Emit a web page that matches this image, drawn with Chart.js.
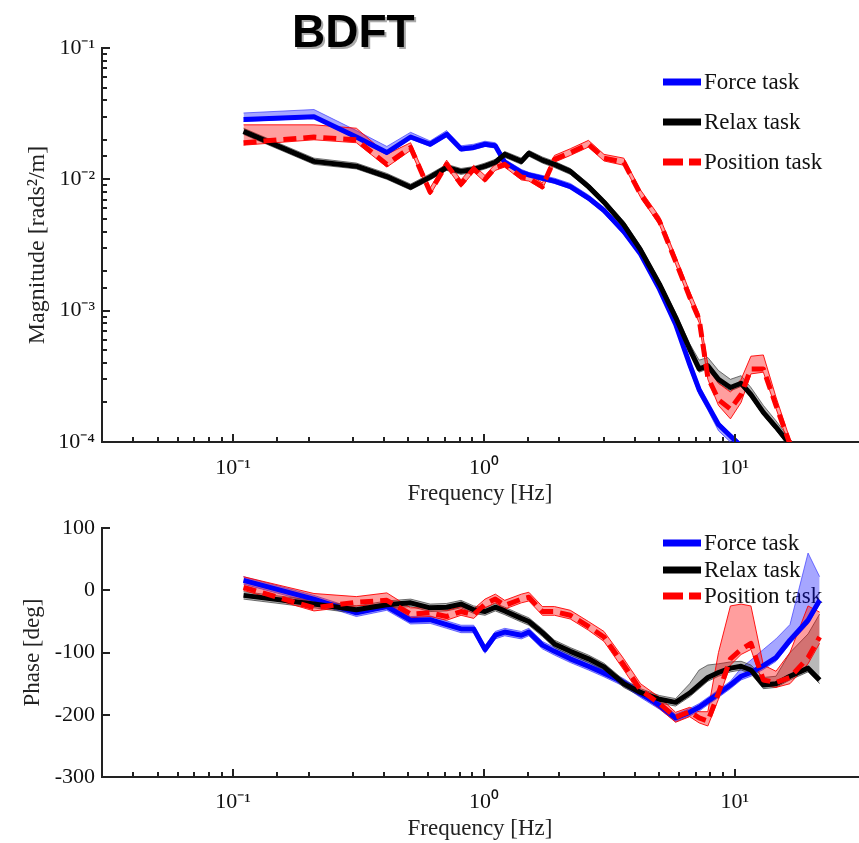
<!DOCTYPE html>
<html>
<head>
<meta charset="utf-8">
<title>BDFT</title>
<script src="https://cdn.jsdelivr.net/npm/chart.js@4.4.1/dist/chart.umd.min.js"></script>
<style>
  html, body { margin: 0; padding: 0; background: #fff; }
  #wrap { position: relative; width: 859px; height: 843px; overflow: hidden; }
  #title { position: absolute; left: 292px; top: 8px; font: bold 46px 'Liberation Sans', Arial, sans-serif; line-height: 46px; color: #000; text-shadow: 2px 2px 0 #aaa; }
  canvas { position: absolute; left: 0; }
  #mag { top: 0; }
  #phase { top: 508px; }
</style>
</head>
<body>
<div id="wrap">
  <canvas id="mag" width="859" height="510"></canvas>
  <canvas id="phase" width="859" height="335"></canvas>
  <div id="title">BDFT</div>
</div>
<script>
// frequencies (Hz) shared by all curves
const freqHz = [0.11, 0.21, 0.31, 0.41, 0.51, 0.61, 0.71, 0.81, 0.91, 1.01, 1.11, 1.21, 1.41, 1.51, 1.71, 1.91, 2.21, 2.61, 3.01, 3.61, 4.21, 5.01, 5.81, 6.61, 7.21, 7.81, 8.61, 9.61, 10.6, 11.6, 13.0, 14.6, 16.6, 19.6, 21.8];

const seriesNames = ['Force task', 'Relax task', 'Position task'];

// magnitude [rads^2/m]
const magForce = [0.0286, 0.030, 0.021, 0.016, 0.021, 0.0185, 0.022, 0.017, 0.0175, 0.0185, 0.018, 0.0135, 0.0113, 0.0108, 0.0102, 0.0097, 0.0088, 0.0072, 0.0058, 0.0040, 0.0027, 0.00146, 0.00079, 0.00039, 0.00025, 0.00019, 0.000136, 0.000111, 0.000093, 0.00007, 0.00005, 0.00004, 0.00003, 0.000025, 0.00002];
const magForceHi = [0.032, 0.034, 0.0235, 0.0178, 0.0228, 0.0196, 0.0235, 0.018, 0.0185, 0.0195, 0.019, 0.0142, 0.0119, 0.0113, 0.0107, 0.0102, 0.0093, 0.0076, 0.0061, 0.0042, 0.0028, 0.00152, 0.00083, 0.00042, 0.00027, 0.0002, 0.000143, 0.000116, 0.000098, 0.000074, 0.000053, 0.000042, 0.000032, 0.000027, 0.000022];
const magForceLo = [0.0276, 0.0292, 0.0203, 0.0154, 0.0203, 0.0178, 0.0212, 0.0164, 0.0168, 0.0178, 0.0173, 0.013, 0.0109, 0.0104, 0.0098, 0.0093, 0.0085, 0.0069, 0.0055, 0.0038, 0.0026, 0.0014, 0.00075, 0.00036, 0.00023, 0.000175, 0.000122, 0.0001, 0.000085, 0.000064, 0.000046, 0.000037, 0.000028, 0.000023, 0.000018];

const magRelax = [0.0232, 0.0137, 0.0126, 0.0105, 0.0087, 0.0104, 0.0123, 0.0115, 0.0119, 0.0126, 0.0135, 0.0155, 0.0137, 0.0158, 0.014, 0.013, 0.0115, 0.0088, 0.0067, 0.0045, 0.0029, 0.00159, 0.00089, 0.00051, 0.00036, 0.00038, 0.0003, 0.00026, 0.00028, 0.00023, 0.000168, 0.00013, 0.000096, 0.00007, 0.000057];
const magRelaxHi = [0.0245, 0.0145, 0.0133, 0.0111, 0.0092, 0.011, 0.013, 0.0121, 0.0125, 0.0133, 0.0142, 0.0163, 0.0145, 0.0166, 0.0148, 0.0137, 0.0121, 0.0093, 0.0071, 0.0048, 0.0031, 0.0017, 0.00096, 0.00056, 0.00042, 0.00044, 0.00035, 0.0003, 0.00032, 0.00026, 0.00019, 0.000145, 0.000105, 0.000077, 0.000062];
const magRelaxLo = [0.022, 0.013, 0.012, 0.01, 0.0083, 0.0099, 0.0117, 0.0109, 0.0113, 0.012, 0.0128, 0.0147, 0.013, 0.015, 0.0133, 0.0123, 0.0109, 0.0084, 0.0064, 0.0043, 0.0028, 0.0015, 0.00085, 0.00048, 0.00034, 0.00036, 0.00028, 0.000245, 0.000265, 0.000218, 0.00016, 0.000123, 0.00009, 0.000066, 0.000054];

const magPosition = [0.019, 0.021, 0.020, 0.013, 0.0175, 0.008, 0.013, 0.0092, 0.012, 0.010, 0.0123, 0.013, 0.0104, 0.0102, 0.0088, 0.0142, 0.016, 0.0185, 0.0145, 0.0135, 0.0077, 0.0048, 0.00238, 0.00127, 0.00086, 0.00031, 0.00021, 0.000178, 0.00023, 0.00036, 0.00036, 0.00019, 0.0000964, 0.00005, 0.000037];
const magPositionHi = [0.026, 0.026, 0.0245, 0.0155, 0.019, 0.0086, 0.014, 0.0099, 0.0128, 0.0107, 0.0131, 0.0139, 0.0111, 0.0109, 0.0094, 0.0152, 0.0171, 0.0198, 0.0155, 0.0145, 0.0083, 0.0052, 0.0026, 0.0014, 0.00095, 0.00039, 0.00028, 0.00024, 0.0003, 0.00045, 0.00046, 0.00022, 0.000105, 0.000055, 0.00004];
const magPositionLo = [0.0182, 0.02, 0.019, 0.0124, 0.0166, 0.0076, 0.0124, 0.0087, 0.0114, 0.0095, 0.0117, 0.0124, 0.0099, 0.0097, 0.0084, 0.0135, 0.0152, 0.0176, 0.0138, 0.0128, 0.0073, 0.0045, 0.00226, 0.0012, 0.00081, 0.0003, 0.00019, 0.00015, 0.0002, 0.00033, 0.00034, 0.00018, 0.00009, 0.000047, 0.000035];

// phase [deg]
const phaseForce = [16, -14, -36, -26, -48, -47, -55, -62, -62, -95, -72, -67, -72, -67, -88, -98, -110, -122, -133, -148, -166, -185, -205, -196, -188, -178, -166, -152, -138, -132, -121, -108, -80, -48, -16];
const phaseForceHi = [22, -8, -30, -20, -42, -41, -49, -56, -56, -89, -66, -61, -66, -61, -82, -92, -104, -116, -127, -142, -160, -179, -199, -190, -182, -172, -160, -146, -125, -112, -95, -78, -55, 60, 22];
const phaseForceLo = [10, -20, -42, -32, -54, -53, -61, -68, -68, -101, -78, -73, -78, -73, -94, -104, -116, -128, -139, -154, -172, -191, -211, -202, -194, -184, -172, -158, -144, -138, -127, -114, -86, -54, -22];

const phaseRelax = [-8, -22, -31, -23, -20, -28, -27, -22, -31, -34, -27, -33, -45, -50, -68, -86, -98, -110, -123, -150, -164, -175, -180, -165, -152, -140, -132, -125, -122, -128, -152, -150, -138, -125, -144];
const phaseRelaxHi = [-2, -16, -25, -17, -14, -22, -21, -16, -25, -28, -21, -27, -39, -44, -62, -80, -92, -104, -117, -144, -158, -169, -174, -150, -128, -120, -118, -115, -114, -120, -140, -138, -100, -70, -38];
const phaseRelaxLo = [-14, -28, -37, -29, -26, -34, -33, -28, -37, -40, -33, -39, -51, -56, -74, -92, -104, -116, -129, -156, -170, -181, -186, -171, -158, -146, -138, -131, -128, -134, -158, -156, -144, -131, -150];

const phasePosition = [5, -28, -19, -16, -38, -36, -42, -34, -39, -22, -14, -24, -14, -11, -34, -34, -40, -58, -75, -120, -160, -182, -204, -195, -205, -210, -165, -110, -95, -85, -144, -148, -140, -108, -75];
const phasePositionHi = [22, -5, -10, -4, -28, -28, -32, -26, -30, -14, -6, -16, -6, -3, -26, -26, -32, -50, -66, -110, -150, -172, -196, -188, -195, -195, -100, -25, -22, -25, -120, -130, -100, -25, -35];
const phasePositionLo = [0, -33, -25, -22, -44, -42, -48, -40, -45, -28, -20, -30, -20, -17, -40, -40, -46, -64, -82, -128, -168, -190, -212, -203, -213, -218, -175, -120, -103, -95, -152, -156, -150, -118, -85];

// tick labels
const freqDecades = [0.1, 1, 10];
const freqDecadeLabels = ['10\u207B\u00B9', '10\u2070', '10\u00B9'];
const magDecades = [1e-4, 1e-3, 1e-2, 1e-1];
const magDecadeLabels = ['10\u207B\u2074', '10\u207B\u00B3', '10\u207B\u00B2', '10\u207B\u00B9'];

const SERIF = "'Liberation Serif', 'Times New Roman', serif";
Chart.defaults.font.family = SERIF;
Chart.defaults.font.size = 22;
Chart.defaults.color = '#111';

function pts(values) {
    return freqHz.map((f, i) => ({ x: f, y: values[i] }));
}

function decadeLabel(v, decades, labels) {
    const i = decades.findIndex(d => Math.abs(v / d - 1) < 1e-6);
    return i >= 0 ? labels[i] : '';
}

function isDecade(v) {
    const e = Math.log10(v);
    return Math.abs(e - Math.round(e)) < 1e-6;
}

// inward tick marks like the matlab axes
const inwardTicks = {
    id: 'inwardTicks',
    afterDraw(chart) {
        const { ctx, chartArea, scales } = chart;
        ctx.save();
        ctx.strokeStyle = '#222';
        ctx.lineWidth = 2;
        scales.x.ticks.forEach(t => {
            if (t.value < 0.035 || t.value > 10.5) return;
            const px = Math.round(scales.x.getPixelForValue(t.value));
            const len = isDecade(t.value) ? 8 : 5;
            ctx.beginPath();
            ctx.moveTo(px, chartArea.bottom);
            ctx.lineTo(px, chartArea.bottom - len);
            ctx.stroke();
        });
        const logY = scales.y.type === 'logarithmic';
        scales.y.ticks.forEach(t => {
            const py = Math.round(scales.y.getPixelForValue(t.value));
            const len = !logY || isDecade(t.value) ? 8 : 5;
            ctx.beginPath();
            ctx.moveTo(chartArea.left, py);
            ctx.lineTo(chartArea.left + len, py);
            ctx.stroke();
        });
        ctx.restore();
    }
};

function legendPlugin(rowsY) {
    const colors = ['#0000ff', '#000000', '#ff0000'];
    return {
        id: 'taskLegend',
        beforeDatasetsDraw(chart) {
            const ctx = chart.ctx;
            ctx.save();
            seriesNames.forEach((name, i) => {
                const y = rowsY[i];
                ctx.beginPath();
                ctx.strokeStyle = colors[i];
                ctx.lineWidth = 7;
                ctx.setLineDash(i === 2 ? [20, 6] : []);
                ctx.moveTo(663, y);
                ctx.lineTo(701, y);
                ctx.stroke();
                ctx.setLineDash([]);
                ctx.fillStyle = '#111';
                ctx.font = '23px ' + SERIF;
                ctx.textBaseline = 'middle';
                ctx.fillText(name, 704, y + 1);
            });
            ctx.restore();
        }
    };
}

function buildDatasets(mean, hi, lo) {
    const line = (i, vals, color, dash, order) => ({
        label: seriesNames[i], data: pts(vals), borderColor: color, borderWidth: 5,
        borderDash: dash, borderJoinStyle: 'round', fill: false, order: order
    });
    const band = (vals, fill, edge, order, target) => ({
        data: pts(vals), borderColor: edge, borderWidth: 1, backgroundColor: fill,
        fill: target, order: order
    });
    return [
        line(0, mean[0], '#0000ff', [], 2),
        line(1, mean[1], '#000000', [], 1),
        line(2, mean[2], '#ff0000', [13, 7], 0),
        band(hi[0], 'rgba(0,0,255,0.35)', 'rgba(60,60,255,0.7)', 5, '+1'),
        band(lo[0], 'rgba(0,0,255,0.35)', 'rgba(60,60,255,0.7)', 5, false),
        band(hi[1], 'rgba(0,0,0,0.28)', 'rgba(60,60,60,0.7)', 4, '+1'),
        band(lo[1], 'rgba(0,0,0,0.28)', 'rgba(60,60,60,0.7)', 4, false),
        band(hi[2], 'rgba(255,0,0,0.38)', 'rgba(255,0,0,0.9)', 3, '+1'),
        band(lo[2], 'rgba(255,0,0,0.38)', 'rgba(255,0,0,0.9)', 3, false)
    ];
}

function xScale(axisHeight, labelPad, titlePad) {
    return {
        type: 'logarithmic', min: 0.03, max: 31,
        afterFit: s => { s.height = axisHeight; s.paddingLeft = 0; s.paddingRight = 0; },
        grid: { display: false, drawTicks: false },
        border: { display: true, color: '#222', width: 2 },
        ticks: {
            autoSkip: false, maxRotation: 0, minRotation: 0, padding: labelPad,
            callback: v => decadeLabel(v, freqDecades, freqDecadeLabels)
        },
        title: { display: true, text: 'Frequency [Hz]', color: '#222', font: { size: 23 }, padding: { top: 0, bottom: titlePad } }
    };
}

const baseOptions = {
    responsive: false, animation: false, devicePixelRatio: 1,
    elements: { point: { radius: 0, hoverRadius: 0, hitRadius: 0 }, line: { tension: 0 } },
    plugins: { legend: { display: false }, tooltip: { enabled: false } }
};

new Chart(document.getElementById('mag').getContext('2d'), {
    type: 'line',
    data: {
        datasets: buildDatasets([magForce, magRelax, magPosition],
            [magForceHi, magRelaxHi, magPositionHi],
            [magForceLo, magRelaxLo, magPositionLo])
    },
    options: {
        ...baseOptions,
        layout: { autoPadding: false, padding: { top: 48, right: 1, left: 0, bottom: 0 } },
        scales: {
            x: xScale(68, 13, 2),
            y: {
                type: 'logarithmic', min: 1e-4, max: 1e-1,
                afterFit: s => { s.width = 102; },
                grid: { display: false, drawTicks: false },
                border: { display: true, color: '#222', width: 2 },
                ticks: { autoSkip: false, padding: 7, callback: v => decadeLabel(v, magDecades, magDecadeLabels) },
                title: { display: true, text: 'Magnitude [rads\u00B2/m]', color: '#222', font: { size: 24 }, padding: { top: 23, bottom: 0 } }
            }
        }
    },
    plugins: [inwardTicks, legendPlugin([82, 122, 162])]
});

new Chart(document.getElementById('phase').getContext('2d'), {
    type: 'line',
    data: {
        datasets: buildDatasets([phaseForce, phaseRelax, phasePosition],
            [phaseForceHi, phaseRelaxHi, phasePositionHi],
            [phaseForceLo, phaseRelaxLo, phasePositionLo])
    },
    options: {
        ...baseOptions,
        layout: { autoPadding: false, padding: { top: 14, right: 1, left: 0, bottom: 0 } },
        scales: {
            x: xScale(66, 12, 0),
            y: {
                type: 'linear', min: -300, max: 100,
                afterFit: s => { s.width = 102; },
                grid: { display: false, drawTicks: false },
                border: { display: true, color: '#222', width: 2 },
                ticks: { stepSize: 100, padding: 7 },
                title: { display: true, text: 'Phase [deg]', color: '#222', font: { size: 23 }, padding: { top: 19, bottom: 0 } }
            }
        }
    },
    plugins: [inwardTicks, legendPlugin([35, 62, 88])]
});
</script>
</body>
</html>
